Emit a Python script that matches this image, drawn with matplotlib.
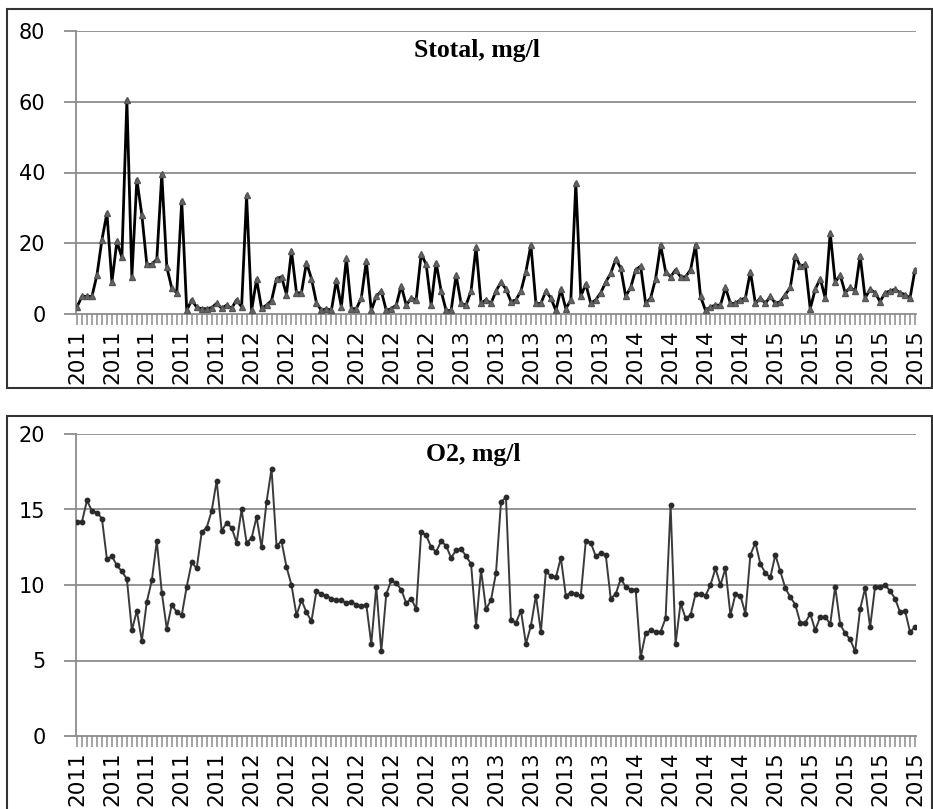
import numpy as np
import matplotlib.pyplot as plt
from matplotlib.patches import Rectangle

# sample values, one per sampling date
stotal = [2, 5, 5, 5, 11, 21, 28.5, 9, 20.5, 16,
          60.5, 10.5, 38, 28, 14, 14, 15.5, 39.5, 13.3, 7.3,
          6, 32, 1, 4, 1.9, 1.5, 1.5, 1.8, 3, 1.6,
          2.5, 1.6, 4, 2, 33.5, 1, 9.8, 1.6, 2.5, 3.8,
          10, 10.5, 5.5, 17.8, 6, 6, 14.5, 10, 3.2, 1,
          1.5, 1, 9.6, 2, 15.8, 1.5, 1.5, 4.5, 15, 1,
          5, 6.5, 1, 1.5, 2.5, 8, 2.5, 4.5, 4, 17,
          14, 2.5, 14.5, 6.5, 1, 1, 11, 3, 2.5, 6.5,
          19, 3, 4, 3, 6.5, 9, 7, 3.5, 4, 6.5,
          12, 19.5, 3, 3, 6.5, 4.5, 1, 7, 1.5, 4,
          37, 5, 8.5, 3, 4, 6, 9, 11.5, 15.5, 13,
          5, 7.5, 12.5, 13.5, 3, 4.5, 10, 19.5, 12, 10.5,
          12.5, 10.5, 10.5, 12.5, 19.5, 5, 1, 2, 2.5, 2.5,
          7.5, 3, 3, 4, 4.5, 12, 3, 4.5, 3, 5,
          3, 3.5, 5.5, 7.5, 16.5, 13.5, 14, 1.5, 7, 10,
          4.5, 23, 9, 11, 6, 7.5, 6.5, 16.5, 4.5, 7,
          6, 3.5, 6, 6.5, 7, 6, 5.5, 4.5, 12.5]

o2 = [14.2, 14.2, 15.6, 14.9, 14.8, 14.4, 11.7, 11.9, 11.3, 10.9,
      10.4, 7.0, 8.3, 6.3, 8.9, 10.3, 12.9, 9.5, 7.1, 8.7,
      8.2, 8.0, 9.9, 11.5, 11.1, 13.5, 13.8, 14.9, 16.9, 13.6,
      14.1, 13.8, 12.8, 15.0, 12.8, 13.1, 14.5, 12.5, 15.5, 17.7,
      12.6, 12.9, 11.2, 10.0, 8.0, 9.0, 8.2, 7.6, 9.6, 9.4,
      9.3, 9.1, 9.0, 9.0, 8.8, 8.9, 8.7, 8.6, 8.7, 6.1,
      9.9, 5.6, 9.4, 10.3, 10.1, 9.7, 8.8, 9.1, 8.4, 13.5,
      13.3, 12.5, 12.2, 12.9, 12.6, 11.8, 12.3, 12.4, 11.9, 11.4,
      7.3, 11.0, 8.4, 9.0, 10.8, 15.5, 15.8, 7.7, 7.5, 8.3,
      6.1, 7.3, 9.3, 6.9, 10.9, 10.6, 10.5, 11.8, 9.3, 9.5,
      9.4, 9.3, 12.9, 12.8, 11.9, 12.1, 12.0, 9.1, 9.4, 10.4,
      9.9, 9.7, 9.7, 5.2, 6.8, 7.0, 6.9, 6.9, 7.8, 15.3,
      6.1, 8.8, 7.8, 8.0, 9.4, 9.4, 9.3, 10.0, 11.1, 10.0,
      11.1, 8.0, 9.4, 9.3, 8.1, 12.0, 12.8, 11.4, 10.8, 10.5,
      12.0, 10.9, 9.8, 9.2, 8.7, 7.5, 7.5, 8.1, 7.0, 7.9,
      7.9, 7.4, 9.9, 7.4, 6.8, 6.4, 5.6, 8.4, 9.8, 7.2,
      9.9, 9.9, 10.0, 9.6, 9.1, 8.2, 8.3, 6.9, 7.2]

# axis labels shown every 7th sample
year_labels = ['2011'] * 5 + ['2012'] * 6 + ['2013'] * 5 + ['2014'] * 4 + ['2015'] * 5
label_step = 7

W, H = 933, 809
fig = plt.figure(figsize=(W / 100, H / 100), dpi=100)

# panel frames
fig.patches.append(Rectangle((7 / W, 1 - 388 / H), 925 / W, 379 / H, transform=fig.transFigure,
                             fill=False, edgecolor='#333333', linewidth=1.5))
fig.patches.append(Rectangle((7 / W, -0.01), 925 / W, 1 - 416 / H + 0.01, transform=fig.transFigure,
                             fill=False, edgecolor='#333333', linewidth=1.5))

ax1 = fig.add_axes([76 / W, 1 - 314 / H, 840 / W, 283 / H])
ax2 = fig.add_axes([76 / W, 1 - 736 / H, 840 / W, 302 / H])


def style_axis(ax, values, ymax, ystep, title, tx, ty):
    n = len(values)
    x = np.arange(n)
    ax.set_xlim(-0.2, n - 1 + 0.2)
    ax.set_ylim(0, ymax)
    ax.set_yticks(np.arange(0, ymax + 1, ystep))
    for y in np.arange(ystep, ymax + 1, ystep):
        ax.axhline(y, color='#8c8c8c', linewidth=1.3, zorder=1)
    for side in ['top', 'right']:
        ax.spines[side].set_visible(False)
    ax.spines['left'].set_color('#8c8c8c')
    ax.spines['bottom'].set_color('#8c8c8c')
    ax.spines['left'].set_linewidth(1.3)
    ax.spines['bottom'].set_linewidth(1.3)
    label_pos = np.arange(0, n, label_step)[:len(year_labels)]
    ax.set_xticks(label_pos)
    ax.set_xticklabels(year_labels, rotation=90, fontsize=15.5, family='DejaVu Sans')
    ax.set_xticks(x, minor=True)
    ax.tick_params(axis='x', which='both', direction='out', length=8, width=1.1,
                   color='#8c8c8c', pad=3)
    ax.tick_params(axis='y', direction='out', length=9, width=1.3, color='#8c8c8c',
                   labelsize=15, pad=13)
    for lab in ax.get_yticklabels():
        lab.set_family('DejaVu Sans')
    ax.text(tx, ty, title, transform=ax.transAxes, ha='center', va='center',
            fontsize=18.5, fontweight='bold', family='Liberation Serif')
    return x


x1 = style_axis(ax1, stotal, 80, 20, 'Stotal, mg/l', (477 - 76) / 840, (314 - 51) / 283)
ax1.plot(x1, stotal, color='black', linewidth=2.0, marker='^', markersize=5,
         markerfacecolor='#666666', markeredgecolor='#555555', zorder=3)

x2 = style_axis(ax2, o2, 20, 5, 'O2, mg/l', (473 - 76) / 840, (736 - 455) / 302)
ax2.plot(x2, o2, color='#3a3a3a', linewidth=1.4, marker='o', markersize=3.2,
         markerfacecolor='#2a2a2a', markeredgecolor='#2a2a2a', zorder=3)

plt.savefig('out.png', dpi=100)
plt.close()
